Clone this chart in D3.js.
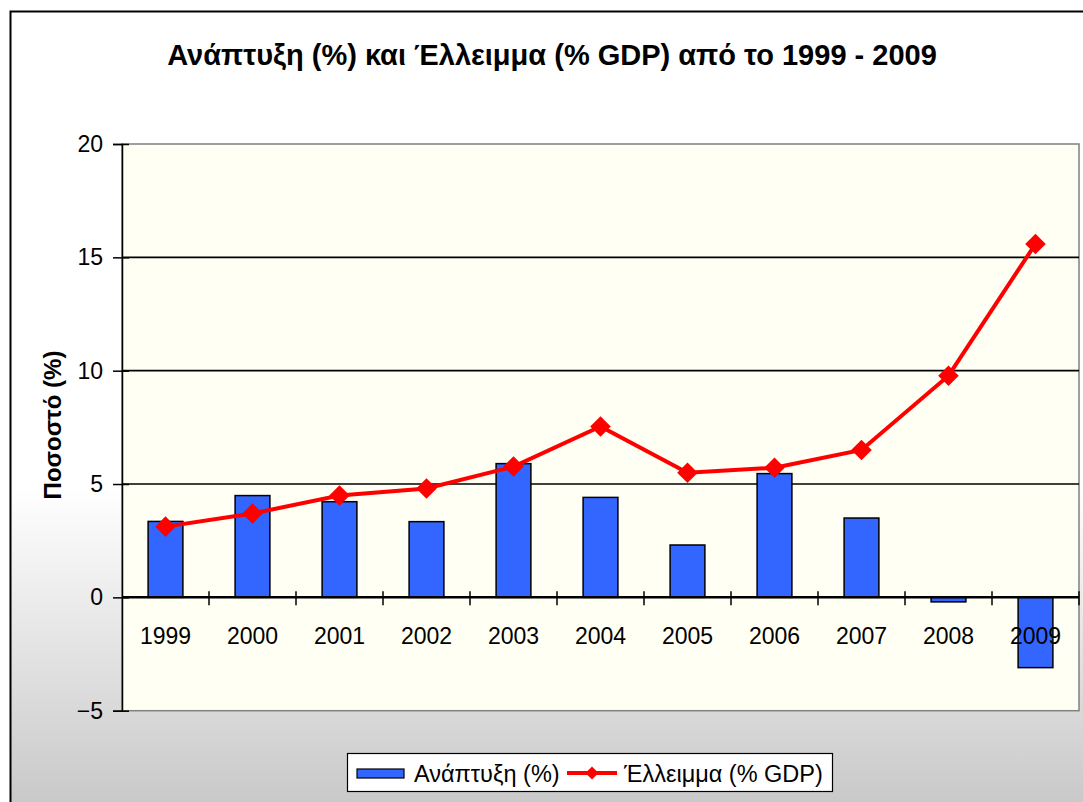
<!DOCTYPE html>
<html>
<head>
<meta charset="utf-8">
<script src="https://cdn.jsdelivr.net/npm/d3@7"></script>
<style>
  body { margin: 0; background: #fff; }
  text { font-family: "Liberation Sans", Arial, sans-serif; }
</style>
</head>
<body>
<svg id="chart"></svg>
<script>
var years = ["1999","2000","2001","2002","2003","2004","2005","2006","2007","2008","2009"]
var growth = [3.35, 4.49, 4.22, 3.34, 5.9, 4.41, 2.31, 5.46, 3.5, -0.2, -3.1]
var deficit = [3.12, 3.7, 4.49, 4.8, 5.77, 7.54, 5.5, 5.72, 6.5, 9.78, 15.59]
var yTicks = [-5, 0, 5, 10, 15, 20]

var titleText = "Ανάπτυξη (%) και Έλλειμμα (% GDP) από το 1999 - 2009"
var yTitle = "Ποσοστό (%)"
var legendNames = ["Ανάπτυξη (%)", "Έλλειμμα (% GDP)"]

var dimensions = {
    width: 1083,
    height: 802,
    margin: { top: 144, bottom: 91.3, left: 122, right: 4 }
}

var svg = d3.select("#chart")
    .attr("width", dimensions.width)
    .attr("height", dimensions.height)

// background gradient of the chart frame
var grad = svg.append("defs").append("linearGradient")
    .attr("id", "bg").attr("x1", 0).attr("y1", 0).attr("x2", 0).attr("y2", 1)
grad.append("stop").attr("offset", "0").attr("stop-color", "#ffffff")
grad.append("stop").attr("offset", "0.58").attr("stop-color", "#ffffff")
grad.append("stop").attr("offset", "1").attr("stop-color", "#c4c4c4")

svg.append("rect")
    .attr("x", 10.5).attr("y", 11.5)
    .attr("width", 1100).attr("height", 820)
    .attr("fill", "url(#bg)")
    .attr("stroke", "black")
    .attr("stroke-width", 2)

var xScale = d3.scaleBand()
    .domain(years)
    .range([dimensions.margin.left, dimensions.width - dimensions.margin.right])
    .paddingInner(0.6)
    .paddingOuter(0.3)

var yScale = d3.scaleLinear()
    .domain([-5, 20])
    .range([dimensions.height - dimensions.margin.bottom, dimensions.margin.top])

var plotW = dimensions.width - dimensions.margin.right - dimensions.margin.left
var plotH = yScale(-5) - yScale(20)

// plot area
svg.append("rect")
    .attr("x", dimensions.margin.left)
    .attr("y", yScale(20))
    .attr("width", plotW)
    .attr("height", plotH)
    .attr("fill", "#fffff3")
    .attr("stroke", "#808080")
    .attr("stroke-width", 1.5)

// gridlines
svg.append("g")
    .selectAll("line")
    .data([5, 10, 15])
    .join("line")
    .attr("x1", dimensions.margin.left)
    .attr("x2", dimensions.margin.left + plotW)
    .attr("y1", d => yScale(d))
    .attr("y2", d => yScale(d))
    .attr("stroke", "black")
    .attr("stroke-width", 1.7)

// bars
svg.append("g")
    .selectAll("rect")
    .data(growth)
    .join("rect")
    .attr("x", (d, i) => xScale(years[i]))
    .attr("width", xScale.bandwidth())
    .attr("y", d => yScale(Math.max(d, 0)))
    .attr("height", d => Math.abs(yScale(d) - yScale(0)))
    .attr("fill", "#3366ff")
    .attr("stroke", "black")
    .attr("stroke-width", 1.5)

// y axis
var yAxisGen = d3.axisLeft(yScale).tickValues(yTicks).tickSize(9).tickPadding(10)
var yAxis = svg.append("g")
    .attr("transform", `translate(${dimensions.margin.left},0)`)
    .call(yAxisGen)
yAxis.select(".domain").attr("stroke", "black").attr("stroke-width", 1.5)
yAxis.selectAll(".tick line").attr("x1", 7).attr("stroke-width", 1.5)
yAxis.selectAll(".tick text")
    .style("font-size", "23px")
    .style("font-family", "'Liberation Sans', Arial, sans-serif")
    .attr("fill", "black")

// x axis (labels at category centres, ticks at boundaries)
var step = xScale.step()
var gap = (step - xScale.bandwidth()) / 2
var x0 = yScale(0)
var xAxisGen = d3.axisBottom(xScale).tickSize(0)
var xAxis = svg.append("g")
    .attr("transform", `translate(0,${x0})`)
    .call(xAxisGen)
xAxis.select(".domain").remove()
xAxis.selectAll(".tick text")
    .attr("y", 47)
    .attr("dy", 0)
    .style("font-size", "23px")
    .style("font-family", "'Liberation Sans', Arial, sans-serif")
    .attr("fill", "black")

svg.append("line")
    .attr("x1", dimensions.margin.left)
    .attr("x2", dimensions.margin.left + plotW)
    .attr("y1", x0).attr("y2", x0)
    .attr("stroke", "black")
    .attr("stroke-width", 2.5)

svg.append("g")
    .selectAll("line")
    .data(years)
    .join("line")
    .attr("x1", (d, i) => xScale(years[i]) + xScale.bandwidth() + gap)
    .attr("x2", (d, i) => xScale(years[i]) + xScale.bandwidth() + gap)
    .attr("y1", x0 - 6)
    .attr("y2", x0 + 8)
    .attr("stroke", "black")
    .attr("stroke-width", 1.5)

// deficit line
var line = d3.line()
    .x((d, i) => xScale(years[i]) + xScale.bandwidth() / 2)
    .y(d => yScale(d))

svg.append("path")
    .datum(deficit)
    .attr("d", line)
    .attr("fill", "none")
    .attr("stroke", "#ff0000")
    .attr("stroke-width", 4)

var diamond = d3.symbol().type(d3.symbolDiamond2).size(270)
svg.append("g")
    .selectAll("path")
    .data(deficit)
    .join("path")
    .attr("d", diamond)
    .attr("transform", (d, i) => `translate(${xScale(years[i]) + xScale.bandwidth() / 2},${yScale(d)})`)
    .attr("fill", "#ff0000")

// title
svg.append("text")
    .attr("x", 552)
    .attr("y", 65)
    .attr("text-anchor", "middle")
    .style("font-size", "29px")
    .style("font-weight", "bold")
    .text(titleText)

svg.append("text")
    .attr("transform", "translate(61,425) rotate(-90)")
    .attr("text-anchor", "middle")
    .style("font-size", "24px")
    .style("font-weight", "bold")
    .text(yTitle)

// legend
var legend = svg.append("g")

legend.append("rect")
    .attr("x", 347.5).attr("y", 753.5)
    .attr("width", 485).attr("height", 38)
    .attr("fill", "white")
    .attr("stroke", "black")
    .attr("stroke-width", 1.2)

legend.append("rect")
    .attr("x", 357).attr("y", 769)
    .attr("width", 47).attr("height", 9)
    .attr("fill", "#3366ff")
    .attr("stroke", "black")
    .attr("stroke-width", 1.2)

legend.append("text")
    .attr("x", 414).attr("y", 782)
    .style("font-size", "23.5px")
    .text(legendNames[0])

legend.append("line")
    .attr("x1", 567).attr("x2", 617)
    .attr("y1", 773).attr("y2", 773)
    .attr("stroke", "#ff0000")
    .attr("stroke-width", 4)

legend.append("path")
    .attr("d", d3.symbol().type(d3.symbolDiamond2).size(110))
    .attr("transform", "translate(592,773)")
    .attr("fill", "#ff0000")

legend.append("text")
    .attr("x", 624).attr("y", 782)
    .style("font-size", "23.5px")
    .text(legendNames[1])
</script>
</body>
</html>
